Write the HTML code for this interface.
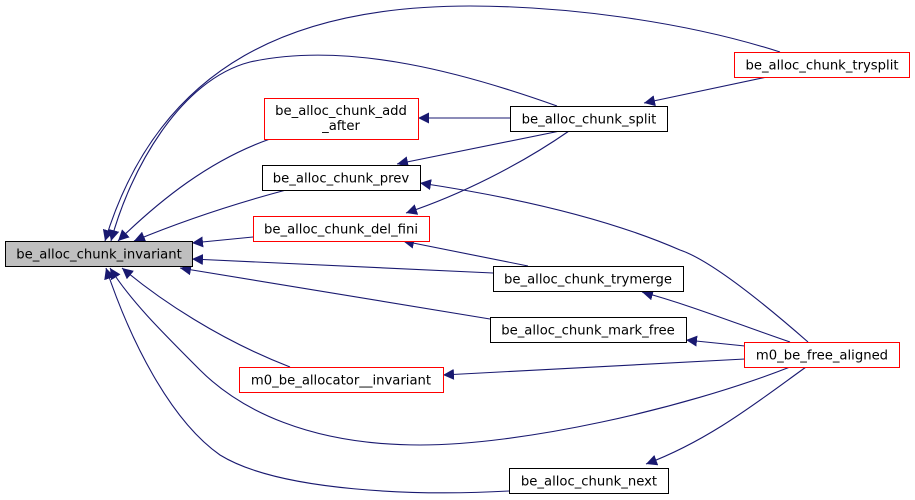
<!DOCTYPE html>
<html><head><meta charset="utf-8"><style>
html,body{margin:0;padding:0;background:#fff;}
svg{display:block;}
text{font-family:"DejaVu Sans","Liberation Sans",sans-serif;font-size:13.2px;fill:#000;}
</style></head><body>
<svg width="915" height="500" viewBox="0 0 915 500" xmlns="http://www.w3.org/2000/svg">
<defs>
<marker id="a" viewBox="0 0 10 10" refX="10" refY="5" markerWidth="11" markerHeight="11" markerUnits="userSpaceOnUse" orient="auto">
<path d="M0,0 L10,5 L0,10 z" fill="#191970"/>
</marker>
</defs>
<g fill="none" stroke="#191970" stroke-width="1.1" marker-end="url(#a)">
<path d="M780,52 C680,20 560,6 470,6 C300,6 160,60 105,241"/>
<path d="M557,106 C470,75 350,40 250,62 C180,80 130,170 111,241"/>
<path d="M270,139 C210,160 160,200 118,241"/>
<path d="M286,190 C230,205 180,222 134,241"/>
<path d="M253,237 L192,243"/>
<path d="M493,273 L192,259"/>
<path d="M490,319 L180,268"/>
<path d="M290,367 C220,340 160,300 122,268"/>
<path d="M790,367 C680,410 520,445 420,445 C310,445 240,410 200,370 C160,330 130,300 110,268"/>
<path d="M509,491 C420,496 280,492 220,455 C170,420 130,340 106,268"/>
<path d="M510,118 L418,118"/>
<path d="M560,131 L397,164"/>
<path d="M569,131 C520,165 460,195 406,213"/>
<path d="M767,77 L644,103"/>
<path d="M808,342 C760,300 710,260 680,250 C600,215 500,195 420,183"/>
<path d="M528,266 L403,241"/>
<path d="M790,342 C740,325 690,305 642,292"/>
<path d="M745,346 L686,340"/>
<path d="M745,359 L443,375"/>
<path d="M806,367 C760,400 710,440 646,464"/>
</g>
<g stroke-width="1">
<rect x="5.5" y="241.5" width="187" height="25" fill="#bfbfbf" stroke="#000"/>
<rect x="264.5" y="98.5" width="154" height="41" fill="#fff" stroke="#ff0000"/>
<rect x="262.5" y="165.5" width="158" height="25" fill="#fff" stroke="#000"/>
<rect x="253.5" y="216.5" width="176" height="25" fill="#fff" stroke="#ff0000"/>
<rect x="239.5" y="367.5" width="204" height="25" fill="#fff" stroke="#ff0000"/>
<rect x="734.5" y="52.5" width="175" height="25" fill="#fff" stroke="#ff0000"/>
<rect x="510.5" y="106.5" width="157" height="25" fill="#fff" stroke="#000"/>
<rect x="493.5" y="266.5" width="190" height="25" fill="#fff" stroke="#000"/>
<rect x="490.5" y="317.5" width="196" height="25" fill="#fff" stroke="#000"/>
<rect x="744.5" y="342.5" width="155" height="25" fill="#fff" stroke="#ff0000"/>
<rect x="509.5" y="468.5" width="159" height="25" fill="#fff" stroke="#000"/>
</g>
<g text-anchor="middle">
<text x="99" y="258.5">be_alloc_chunk_invariant</text>
<text x="341" y="115">be_alloc_chunk_add</text>
<text x="341" y="130">_after</text>
<text x="341" y="182.5">be_alloc_chunk_prev</text>
<text x="341" y="233.5">be_alloc_chunk_del_fini</text>
<text x="341" y="384.5">m0_be_allocator__invariant</text>
<text x="822" y="69.5">be_alloc_chunk_trysplit</text>
<text x="589" y="123.5">be_alloc_chunk_split</text>
<text x="588" y="283.5">be_alloc_chunk_trymerge</text>
<text x="588" y="334.5">be_alloc_chunk_mark_free</text>
<text x="822" y="359.5">m0_be_free_aligned</text>
<text x="589" y="485.5">be_alloc_chunk_next</text>
</g>
</svg>
</body></html>
